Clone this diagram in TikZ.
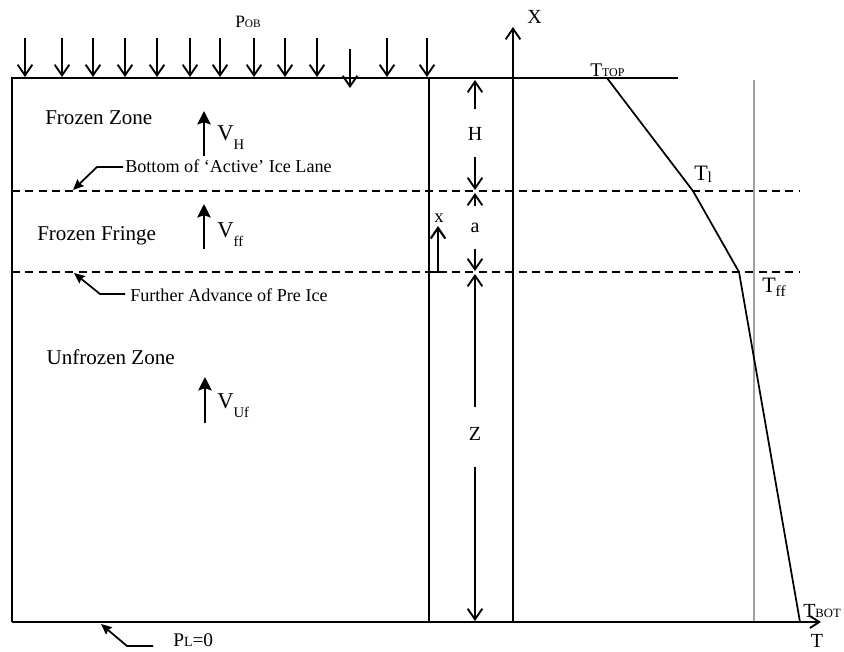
\documentclass[tikz,border=0pt]{standalone}
\usepackage{fontspec}
\setmainfont{Liberation Serif}
\usetikzlibrary{arrows.meta}
\newcommand\fsz[1]{\fontsize{#1}{#1}\selectfont}
\newcommand\lsub[1]{\raisebox{-7pt}{\fsz{11}#1}}
\begin{document}
\begin{tikzpicture}[x=0.75pt,y=-0.75pt,
  mainline/.style={line width=1.4pt},
  dashline/.style={line width=1.2pt,dash pattern=on 6pt off 4pt},
  barb/.tip={Straight Barb[length=8pt,width=11pt]},
  openarr/.style={line width=1.4pt,-barb},
  fillarr/.style={line width=1.7pt,-{Stealth[length=10pt,width=10pt,inset=1.5pt]}},
  leadarr/.style={line width=1.3pt,-{Stealth[length=8pt,width=7pt,inset=1pt]}},
  lbl/.style={inner sep=0pt,font=\fsz{15}},
  zonelbl/.style={inner sep=0pt,font=\fsz{15.8}},
  smalllbl/.style={inner sep=0pt,font=\fsz{13.6}}]
\useasboundingbox (0,0) rectangle (844,651);
% key coordinates
\coordinate (TL) at (12,78);
\coordinate (TR) at (678,78);
\coordinate (BL) at (12,622);
\coordinate (BR) at (821,622);
\coordinate (MT) at (429,78);
\coordinate (MB) at (429,622);
\coordinate (XB) at (513,622);
\coordinate (XT) at (513,27);
\coordinate (G1) at (754,80);
\coordinate (G2) at (754,622);
\coordinate (D1L) at (12,191);
\coordinate (D1R) at (800,191);
\coordinate (D2L) at (12,272);
\coordinate (D2R) at (800,272);
\coordinate (T0) at (607,78);
\coordinate (T1) at (693,191);
\coordinate (T2) at (739,272);
\coordinate (T3) at (800,622);
% gray reference line
\draw[line width=1.3pt,color={rgb,255:red,160;green,160;blue,160}] (G1) -- (G2);
% dashed boundaries
\draw[dashline] (D1L) -- (D1R);
\draw[dashline] (D2L) -- (D2R);
% frame
\draw[mainline] (TR) -- (TL) -- (BL);
\draw[mainline,-{Straight Barb[length=7pt,width=9pt]}] (BL) -- (BR);
\draw[mainline] (MT) -- (MB);
\draw[mainline,-barb] (XB) -- (XT);
% temperature profile
\draw[line width=1.3pt,line join=miter] (T0) -- (T1) -- (T2) -- (T3);
% overburden load arrows
\foreach \x in {25,62,93,125,157,190,220,254,285,317,387,427}{
  \coordinate (la\x) at (\x,38);
  \coordinate (lb\x) at (\x,77);
  \draw[openarr] (la\x) -- (lb\x);
}
\coordinate (la350) at (350,49);
\coordinate (lb350) at (350,88);
\draw[openarr] (la350) -- (lb350);
% labels
\node[anchor=base,inner sep=0pt] (pob) at (248,27) {\fsz{13}P\fsz{8.5}OB};
\node[anchor=base west,lbl] (xlab) at (527,23) {X};
\node[anchor=base west,inner sep=0pt] (ttop) at (590,76) {\fsz{14.5}T\fsz{9}TOP};
\node[anchor=base west,inner sep=0pt] (tl) at (694,180) {\fsz{16.5}T\raisebox{-2pt}{\fsz{11.5}l}};
\node[anchor=base west,inner sep=0pt] (tff) at (762,292) {\fsz{16.5}T\raisebox{-3pt}{\fsz{11.5}ff}};
\node[anchor=base west,inner sep=0pt] (tbot) at (803,617) {\fsz{15}T\fsz{9.5}BOT};
\node[anchor=base,lbl] (taxis) at (817,647) {T};
\node[anchor=base west,inner sep=0pt] (pl) at (173,646) {\fsz{14.5}P\fsz{10.5}L\fsz{14.5}=0};
\node[anchor=base west,zonelbl] (fz) at (45,124) {Frozen Zone};
\node[anchor=base west,zonelbl] (ff) at (37,240) {Frozen Fringe};
\node[anchor=base east,zonelbl] (uz) at (175,364) {Unfrozen Zone};
\node[anchor=base west,inner sep=0pt] (vh) at (217,140) {\fsz{17}V\lsub{H}};
\node[anchor=base west,inner sep=0pt] (vff) at (217,237) {\fsz{17}V\lsub{ff}};
\node[anchor=base west,inner sep=0pt] (vuf) at (217,408) {\fsz{17}V\lsub{Uf}};
\node[anchor=base west,smalllbl] (bail) at (125,172) {Bottom of ‘Active’ Ice Lane};
\node[anchor=base west,smalllbl] (fapi) at (130,301) {Further Advance of Pre Ice};
\node[lbl] (hlab) at (475,134) {H};
\node[lbl] (alab) at (475,228) {a};
\node[lbl] (zlab) at (475,434) {Z};
\node[inner sep=0pt,font=\fsz{14}] (xsm) at (439,218) {x};
% velocity arrows
\coordinate (vh1) at (204,156); \coordinate (vh2) at (204,111);
\coordinate (vf1) at (204,249); \coordinate (vf2) at (204,204);
\coordinate (vu1) at (205,423); \coordinate (vu2) at (205,377);
\draw[fillarr] (vh1) -- (vh2);
\draw[fillarr] (vf1) -- (vf2);
\draw[fillarr] (vu1) -- (vu2);
% dimension arrows
\coordinate (h1) at (475,109); \coordinate (h2) at (475,80);
\coordinate (h3) at (475,157); \coordinate (h4) at (475,190);
\coordinate (a1) at (475,206); \coordinate (a2) at (475,193);
\coordinate (a3) at (475,249); \coordinate (a4) at (475,271);
\coordinate (z1) at (475,407); \coordinate (z2) at (475,274);
\coordinate (z3) at (475,467); \coordinate (z4) at (475,621);
\draw[openarr] (h1) -- (h2);
\draw[openarr] (h3) -- (h4);
\draw[openarr] (a1) -- (a2);
\draw[openarr] (a3) -- (a4);
\draw[openarr] (z1) -- (z2);
\draw[openarr] (z3) -- (z4);
% x arrow
\coordinate (x0) at (429,272); \coordinate (x1) at (438,272); \coordinate (x2) at (438,226);
\draw[line width=1.6pt,-barb] (x0) -- (x1) -- (x2);
% leaders
\coordinate (b0) at (123,167); \coordinate (b1) at (97,167); \coordinate (b2) at (73,190);
\draw[leadarr] (b0) -- (b1) -- (b2);
\coordinate (f0) at (125,294); \coordinate (f1) at (100,294); \coordinate (f2) at (74,273);
\draw[leadarr] (f0) -- (f1) -- (f2);
\coordinate (p0) at (153,646); \coordinate (p1) at (127,646); \coordinate (p2) at (101,624);
\draw[leadarr] (p0) -- (p1) -- (p2);
\end{tikzpicture}
\end{document}
